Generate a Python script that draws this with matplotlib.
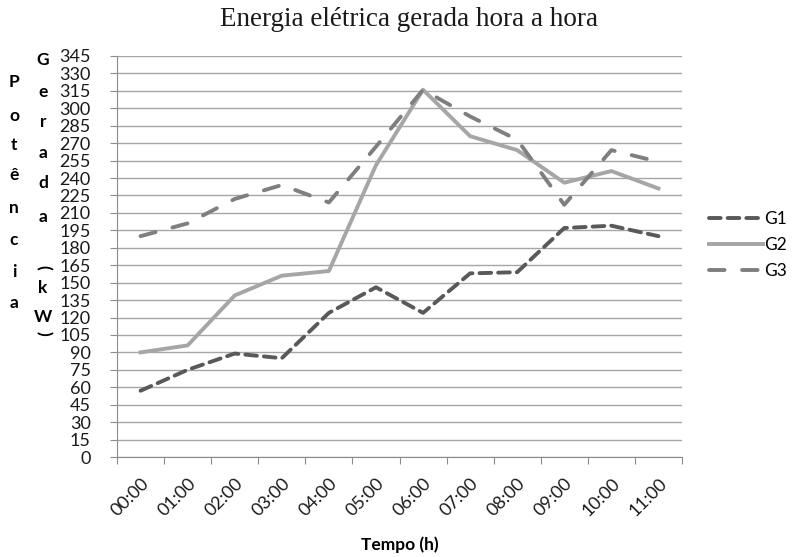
import matplotlib
matplotlib.use("Agg")
import matplotlib.pyplot as plt
import numpy as np

# valores (kW)
horas = ["00:00", "01:00", "02:00", "03:00", "04:00", "05:00",
         "06:00", "07:00", "08:00", "09:00", "10:00", "11:00"]
g1 = [57, 75, 89, 85, 124, 146, 124, 158, 159, 197, 199, 190]
g2 = [90, 96, 139, 156, 160, 251, 316, 276, 264, 236, 246, 231]
g3 = [190, 201, 222, 234, 219, 267, 316, 293, 273, 217, 264, 254]
y_ticks = list(range(0, 346, 15))

col1 = ["P", "o", "t", "ê", "n", "c", "i", "a"]
col2 = ["G", "e", "r", "a", "d", "a", "(", "k", "W", ")"]

plt.rcParams['font.family'] = ['Lato', 'DejaVu Sans']

fig = plt.figure(figsize=(7.98, 5.57), dpi=100)
W, H = 798, 557
ax = fig.add_axes([117 / W, 1 - 457 / H, (682 - 117) / W, (457 - 56) / H])

x = np.arange(len(horas))
ax.plot(x, g1, color="#595959", lw=2.8, dashes=(3.0, 1.8), label="G1",
        dash_capstyle="round")
ax.plot(x, g2, color="#a6a6a6", lw=2.8, label="G2")
ax.plot(x, g3, color="#7f7f7f", lw=2.8, dashes=(4.0, 4.5), label="G3",
        dash_capstyle="round")

ax.set_xlim(-0.5, len(horas) - 0.5)
ax.set_ylim(0, 345)
ax.set_yticks(y_ticks)
ax.set_yticklabels([str(v) for v in y_ticks], fontsize=13, color="#1a1a1a")
ax.yaxis.grid(True, color="#a6a6a6", lw=1.0)
ax.set_axisbelow(True)

ax.set_xticks(np.arange(-0.5, len(horas), 1.0))
ax.set_xticklabels([])
ax.set_xticks(x, minor=True)
ax.set_xticklabels(horas, minor=True, rotation=45, ha="right", va="top",
                   rotation_mode="anchor", fontsize=13, color="#1a1a1a")
ax.tick_params(axis="x", which="minor", length=0, pad=13)
ax.tick_params(axis="x", which="major", length=5, color="#8c8c8c")
ax.tick_params(axis="y", length=5, color="#8c8c8c", pad=14)

for s in ["top", "right"]:
    ax.spines[s].set_visible(False)
for s in ["left", "bottom"]:
    ax.spines[s].set_color("#8c8c8c")

fig.text(409 / W, 1 - 20 / H, "Energia elétrica gerada hora a hora",
         ha="center", va="center", fontsize=19.5,
         family=["Liberation Serif", "DejaVu Serif"], color="#1a1a1a")
fig.text(400 / W, 1 - 545 / H, "Tempo (h)", ha="center", va="center",
         fontsize=12.5, fontweight="bold")

# rotulo vertical empilhado
ys1 = [82, 116, 145, 175, 208, 240, 272, 303]
for ch, yy in zip(col1, ys1):
    fig.text(14 / W, 1 - yy / H, ch, ha="center", va="center",
             fontsize=12.5, fontweight="bold")
ys2 = [60, 92, 122, 153, 183, 217, 267, 288, 317, 333]
for ch, yy in zip(col2, ys2):
    rot = -90 if ch in "()" else 0
    fig.text(43 / W, 1 - yy / H, ch, ha="center", va="center",
             fontsize=12.5, fontweight="bold", rotation=rot)

fig.legend(loc="center left", bbox_to_anchor=(709 / W, 1 - 245 / H),
           frameon=False, fontsize=12.5, handlelength=3.1, handletextpad=0.1,
           labelspacing=0.6, borderaxespad=0, borderpad=0)

fig.savefig("out.png", dpi=100)
